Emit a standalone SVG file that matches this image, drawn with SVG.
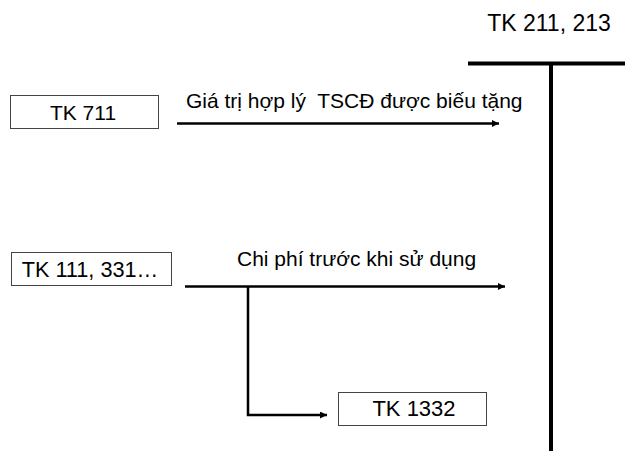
<svg xmlns="http://www.w3.org/2000/svg" width="625" height="451" viewBox="0 0 625 451">
  <defs>
    <marker id="arrow" viewBox="0 0 10 10" refX="10" refY="5" markerUnits="userSpaceOnUse" markerWidth="9" markerHeight="7" orient="auto">
      <path d="M0,0 L10,5 L0,10 Z" fill="#000"/>
    </marker>
    <style>
      text { font-family: "Liberation Sans", Arial, sans-serif; font-size: 21px; fill: #000; white-space: pre; }
      .box { fill: #fff; stroke: #444; stroke-width: 1; }
      .flow { fill: none; stroke: #000; stroke-width: 2.5; }
      .ledger { fill: none; stroke: #000; stroke-width: 4; }
    </style>
  </defs>
  <rect width="625" height="451" fill="#fff"/>

  <!-- T-account -->
  <g id="tk-211-213">
    <text x="549" y="31" text-anchor="middle" style="font-size:23px">TK 211, 213</text>
    <line class="ledger" x1="468" y1="63.5" x2="625" y2="63.5"/>
    <line class="ledger" x1="551" y1="63.5" x2="551" y2="451"/>
  </g>

  <g id="tk-711">
    <rect class="box" x="10.5" y="95.5" width="148" height="33"/>
    <text x="83" y="120" text-anchor="middle">TK 711</text>
  </g>

  <g id="tk-111-331">
    <rect class="box" x="11.5" y="252.5" width="160" height="33"/>
    <text x="90" y="277" text-anchor="middle" style="font-size:21.7px">TK 111, 331…</text>
  </g>

  <g id="tk-1332">
    <rect class="box" x="338.5" y="392.5" width="148" height="33"/>
    <text x="414" y="416" text-anchor="middle" style="font-size:22px">TK 1332</text>
  </g>

  <!-- connectors -->
  <g id="connectors">
    <line class="flow" x1="177" y1="123.5" x2="499" y2="123.5" marker-end="url(#arrow)"/>
    <text x="186" y="108" xml:space="preserve">Giá trị hợp lý  TSCĐ được biếu tặng</text>
    <line class="flow" x1="185" y1="286.5" x2="505" y2="286.5" marker-end="url(#arrow)"/>
    <text x="237" y="266">Chi phí trước khi sử dụng</text>
    <polyline class="flow" points="248,286.5 248,415 327,415" marker-end="url(#arrow)"/>
  </g>
</svg>
